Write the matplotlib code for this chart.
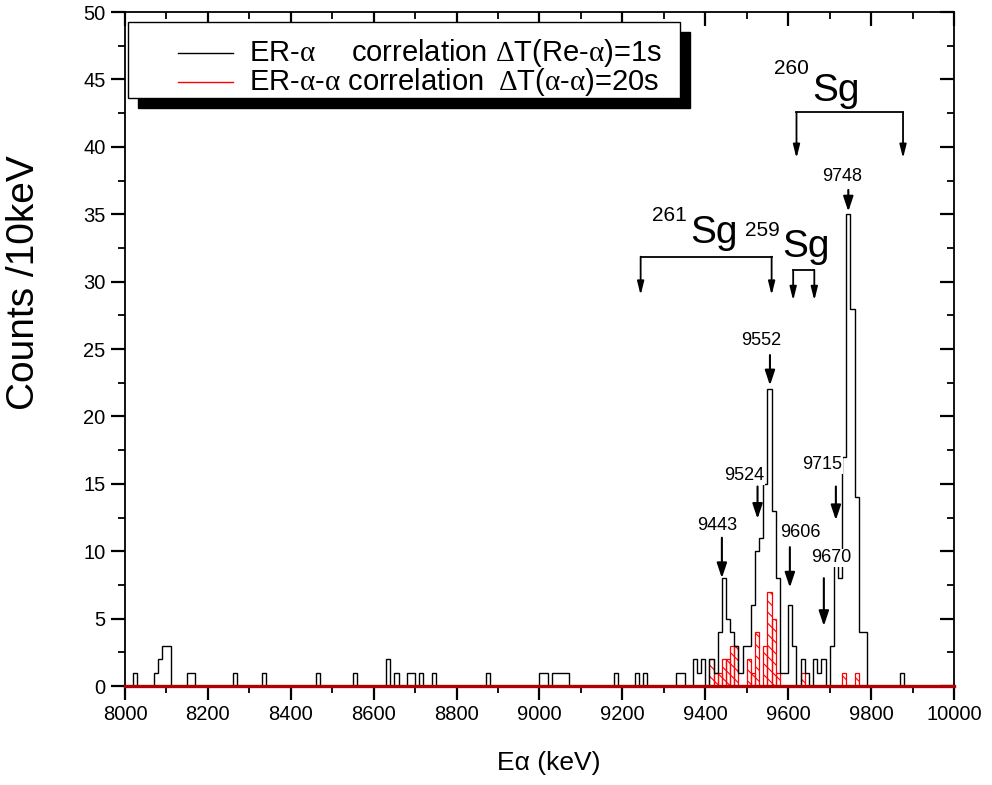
import numpy as np
import matplotlib
matplotlib.use("Agg")
import matplotlib.pyplot as plt
from matplotlib.patches import Rectangle
from matplotlib.lines import Line2D

plt.rcParams['font.family'] = ['Liberation Sans', 'DejaVu Sans']
plt.rcParams['mathtext.fontset'] = 'custom'
plt.rcParams['mathtext.rm'] = 'Liberation Serif'
plt.rcParams['mathtext.it'] = 'Liberation Serif'
plt.rcParams['mathtext.bf'] = 'Liberation Serif:bold'
plt.rcParams['hatch.linewidth'] = 0.8

# ---- data (10 keV bins, lower edge in keV) ----
bin_width = 10
e_min, e_max = 8000, 10000
black_bins = [8020, 8070, 8080, 8090, 8100, 8150, 8160, 8260, 8330, 8460, 8550,
              8630, 8650, 8680, 8690, 8710, 8740, 8870, 9000, 9010, 9030, 9040,
              9050, 9060, 9180, 9230, 9250, 9330, 9340, 9370, 9380, 9390, 9410,
              9420, 9430, 9440, 9450, 9460, 9470, 9480, 9490, 9500, 9510, 9520,
              9530, 9540, 9550, 9560, 9570, 9580, 9590, 9600, 9610, 9630, 9640,
              9660, 9670, 9680, 9700, 9710, 9720, 9730, 9740, 9750, 9760, 9770,
              9780, 9870]
black_counts = [1, 1, 2, 3, 3, 1, 1, 1, 1, 1, 1,
                2, 1, 1, 1, 1, 1, 1, 1, 1, 1, 1,
                1, 1, 1, 1, 1, 1, 1, 2, 1, 2, 2,
                1, 4, 8, 5, 4, 3, 1, 3, 3, 6, 10,
                11, 15, 22, 13, 8, 1, 1, 6, 3, 2, 1,
                2, 1, 2, 3, 10, 8, 17, 35, 28, 14, 4,
                4, 1]
red_bins = [9410, 9420, 9430, 9440, 9450, 9460, 9470, 9500, 9510, 9520, 9540,
            9550, 9560, 9570, 9630, 9730, 9760]
red_counts = [2, 1, 1, 2, 2, 3, 3, 2, 1, 4, 3,
              7, 5, 1, 1, 1, 1]

# peak labels: (text, text_x, text_y, arrow_x, arrow_y_from, arrow_y_to)
peak_labels = ["9748", "9552", "9524", "9443", "9606", "9715", "9670"]
peak_text_x = [9731, 9534, 9495, 9428, 9630, 9681, 9705]
peak_text_y = [37.8, 25.6, 15.6, 11.9, 11.4, 16.4, 9.5]
peak_arrow_x = [9745, 9556, 9526, 9440, 9604, 9715, 9686]
peak_arrow_y0 = [36.8, 24.55, 14.8, 11.0, 10.3, 14.8, 8.0]
peak_arrow_y1 = [35.2, 22.3, 12.4, 8.0, 7.3, 12.3, 4.45]

# isotope brackets
iso_mass = ["260", "261", "259"]
iso_mass_x = [9609, 9314, 9538]
iso_mass_y = [45.8, 34.9, 33.8]
iso_sym_x = [9657, 9363, 9586]
iso_sym_y = [43.4, 32.85, 31.85]
iso_left = [9620, 9244, 9612]
iso_right = [9877, 9560, 9663]
iso_bar_y = [42.55, 31.85, 30.86]
iso_tip_y = [39.15, 29.0, 28.6]

edges = np.arange(e_min, e_max + bin_width, bin_width)
black = np.zeros(len(edges) - 1)
red = np.zeros(len(edges) - 1)
for b, c in zip(black_bins, black_counts):
    black[(b - e_min) // bin_width] = c
for b, c in zip(red_bins, red_counts):
    red[(b - e_min) // bin_width] = c

fig = plt.figure(figsize=(9.92, 7.85), dpi=100)
ax = fig.add_axes([0.126, 0.1261, 0.8357, 0.8586])

# red hatched histogram
ax.bar(edges[:-1], red, width=bin_width, align='edge', facecolor='none',
       edgecolor='red', hatch='\\\\\\', lw=0.9, zorder=2)
# black histogram
ax.stairs(black, edges, color='black', lw=1.0, zorder=3)
ax.axhline(0, color='#b00000', lw=2.4, zorder=6, clip_on=False)

ax.set_xlim(e_min, e_max)
ax.set_ylim(0, 50)
ax.set_xticks(np.arange(8000, 10001, 200))
ax.set_xticks(np.arange(8000, 10001, 100), minor=True)
ax.set_yticks(np.arange(0, 51, 5))
ax.set_yticks(np.arange(0, 51, 2.5), minor=True)
for s in ax.spines.values():
    s.set_linewidth(1.3)
ax.tick_params(axis='both', which='major', direction='out', length=10, width=1.6,
               labelsize=14.5, pad=4)
ax.tick_params(axis='both', which='minor', direction='out', length=5, width=1.3)
ax.tick_params(top=True, right=True, which='both')
# make top/right ticks point inward
for t in ax.xaxis.get_major_ticks() + ax.xaxis.get_minor_ticks():
    t.tick2line.set_marker(matplotlib.lines.TICKDOWN)
for t in ax.yaxis.get_major_ticks() + ax.yaxis.get_minor_ticks():
    t.tick2line.set_marker(matplotlib.lines.TICKLEFT)

ax.set_xlabel('Eα (keV)', fontsize=19)
ax.xaxis.set_label_coords(0.5115, -0.096)
ax.set_ylabel('Counts /10keV', fontsize=28)
ax.yaxis.set_label_coords(-0.100, 0.598)

# peak labels with arrows
for lab, tx, ty, axx, y0, y1 in zip(peak_labels, peak_text_x, peak_text_y,
                                    peak_arrow_x, peak_arrow_y0, peak_arrow_y1):
    ax.text(tx, ty, lab, ha='center', va='center', fontsize=13, zorder=7,
            bbox=dict(facecolor='white', edgecolor='none', pad=0.5))
    ax.annotate('', xy=(axx, y1), xytext=(axx, y0),
                arrowprops=dict(arrowstyle='-|>,head_length=0.9,head_width=0.3',
                                color='black', lw=1.5, shrinkA=0, shrinkB=0))

# isotope brackets
for m, mx, my, sx, sy, l, r, by, ty in zip(iso_mass, iso_mass_x, iso_mass_y,
                                            iso_sym_x, iso_sym_y, iso_left,
                                            iso_right, iso_bar_y, iso_tip_y):
    ax.text(mx, my, m, ha='center', va='center', fontsize=15)
    ax.text(sx, sy, 'Sg', ha='left', va='baseline', fontsize=28)
    ax.plot([l, r], [by, by], color='black', lw=1.3)
    for xx in (l, r):
        ax.annotate('', xy=(xx, ty), xytext=(xx, by),
                    arrowprops=dict(arrowstyle='-|>,head_length=0.8,head_width=0.2',
                                    color='black', lw=1.3, shrinkA=0, shrinkB=0))

# legend box with shadow
bx0, by0, bw, bh = 0.0036, 0.8724, 0.6659, 0.1128
ax.add_patch(Rectangle((bx0 + 0.012, by0 - 0.015), bw, bh, transform=ax.transAxes,
                       facecolor='black', edgecolor='black', zorder=9, clip_on=False))
ax.add_patch(Rectangle((bx0, by0), bw, bh, transform=ax.transAxes,
                       facecolor='white', edgecolor='black', lw=1.0, zorder=10,
                       clip_on=False))
row_y = [0.939, 0.896]
ax.add_line(Line2D([0.064, 0.130], [row_y[0]] * 2, transform=ax.transAxes,
                   color='black', lw=1.0, zorder=11))
ax.add_line(Line2D([0.064, 0.130], [row_y[1]] * 2, transform=ax.transAxes,
                   color='red', lw=1.0, zorder=11))
kw = dict(transform=ax.transAxes, va='center', ha='left', fontsize=21, zorder=11)
ax.text(0.149, row_y[0], r'ER-$\alpha$', **kw)
ax.text(0.273, row_y[0], r'correlation $\Delta$T(Re-$\alpha$)=1s', **kw)
ax.text(0.149, row_y[1], r'ER-$\alpha$-$\alpha$ correlation', **kw)
ax.text(0.450, row_y[1], r'$\Delta$T($\alpha$-$\alpha$)=20s', **kw)

fig.savefig('out.png', dpi=100)
